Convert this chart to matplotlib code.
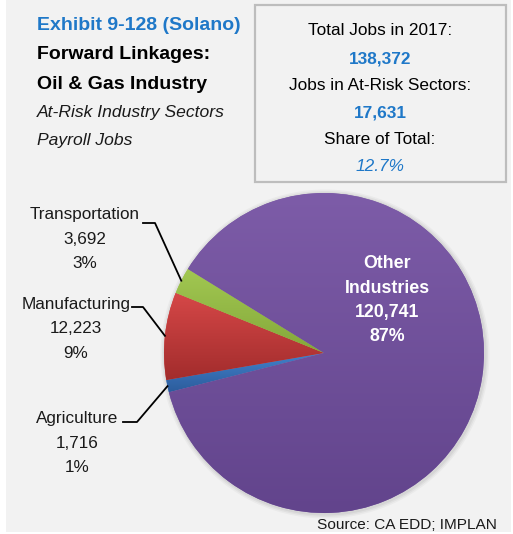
import numpy as np
import matplotlib.pyplot as plt
from matplotlib.colors import to_rgb
from matplotlib.patches import Rectangle, Circle

# data
sectors = ['Agriculture', 'Manufacturing', 'Transportation', 'Other Industries']
jobs = [1716, 12223, 3692, 120741]
total_jobs = 138372
year = 2017

# top / bottom colour of each slice gradient
grad_colors = [('#4282CC', '#2C5C9C'),
               ('#D64848', '#A22C2C'),
               ('#A2C852', '#84A83A'),
               ('#7D5CA8', '#62448C')]

W, H = 513, 534
BG = '#F2F2F2'
BLUE = '#1F78C8'
plt.rcParams['font.family'] = 'Liberation Sans'


def Y(y):
    # picture rows (top down) to data coords (bottom up)
    return H - y


fig = plt.figure(figsize=(W / 100, H / 100), dpi=100, facecolor='white')
ax = fig.add_axes([0, 0, 1, 1])

# grey panel and info box
ax.add_patch(Rectangle((6, Y(532)), 505, 532, facecolor=BG, edgecolor='none', zorder=0))
ax.add_patch(Rectangle((255, Y(182)), 251, 177, facecolor=BG, edgecolor='#BDBDBD',
                       lw=1.6, zorder=1))

# pie
cx, cy, r = 324, Y(353), 160
for i, a in enumerate([0.05, 0.04, 0.03]):
    ax.add_patch(Circle((cx + 1, cy - 1), r + 1.5 + i * 1.5, color='black', alpha=a,
                        lw=0, zorder=1))
wedges, _ = ax.pie(jobs, startangle=194.2, counterclock=False, center=(cx, cy),
                   radius=r, frame=True, colors=[c[0] for c in grad_colors],
                   wedgeprops=dict(linewidth=0, zorder=2))

for w, (ctop, cbot) in zip(wedges, grad_colors):
    ext = w.get_path().get_extents()
    c1, c2 = np.array(to_rgb(ctop)), np.array(to_rgb(cbot))
    t = np.linspace(0, 1, 256)[:, None, None]
    img = c1 * (1 - t) + c2 * t
    im = ax.imshow(img, extent=(ext.x0, ext.x1, ext.y0, ext.y1), origin='upper',
                   aspect='auto', zorder=3, interpolation='bilinear')
    im.set_clip_path(w)

# left labels with leader lines
lab_pos = {
    'Transportation': (85, [219, 244, 268], (143, 155, 223)),
    'Manufacturing': (76, [309, 333, 358], (132, 143, 307)),
    'Agriculture': (77, [423, 448, 472], (123, 137, 422)),
}
for w, name, v in zip(wedges, sectors, jobs):
    pct = round(v / total_jobs * 100)
    if name in lab_pos:
        x, ys, (x0, x1, yl) = lab_pos[name]
        for s, yb in zip([name, f'{v:,}', f'{pct}%'], ys):
            ax.text(x, Y(yb), s, ha='center', va='baseline', fontsize=12.3,
                    color='#1A1A1A', zorder=5)
        mid = np.deg2rad((w.theta1 + w.theta2) / 2)
        ex, ey = cx + r * np.cos(mid), cy + r * np.sin(mid)
        ax.plot([x0, x1, ex], [Y(yl), Y(yl), ey], color='black', lw=1.3, zorder=5)
    else:
        lines = name.split(' ') + [f'{v:,}', f'{pct}%']
        for s, yb in zip(lines, [268, 293, 317, 341]):
            ax.text(387, Y(yb), s, ha='center', va='baseline', fontsize=12.8,
                    fontweight='bold', color='white', zorder=5)

# title block
ax.text(37, Y(30), 'Exhibit 9-128 (Solano)', fontsize=14.0, fontweight='bold',
        color=BLUE, va='baseline', zorder=5)
ax.text(37, Y(59), 'Forward Linkages:', fontsize=14.0, fontweight='bold',
        color='black', va='baseline', zorder=5)
ax.text(37, Y(89), 'Oil & Gas Industry', fontsize=14.0, fontweight='bold',
        color='black', va='baseline', zorder=5)
ax.text(37, Y(117), 'At-Risk Industry Sectors', fontsize=12.6, style='italic',
        color='#1A1A1A', va='baseline', zorder=5)
ax.text(37, Y(145), 'Payroll Jobs', fontsize=12.6, style='italic',
        color='#1A1A1A', va='baseline', zorder=5)

# info box
at_risk = sum(jobs[:3])
box_lines = [
    (f'Total Jobs in {year}:', 35, 'black', 'normal', 'normal'),
    (f'{total_jobs:,}', 63, BLUE, 'bold', 'normal'),
    ('Jobs in At-Risk Sectors:', 90, 'black', 'normal', 'normal'),
    (f'{at_risk:,}', 117, BLUE, 'bold', 'normal'),
    ('Share of Total:', 144, 'black', 'normal', 'normal'),
    (f'{at_risk / total_jobs * 100:.1f}%', 171, BLUE, 'normal', 'italic'),
]
for s, yb, c, fw, st in box_lines:
    ax.text(380, Y(yb), s, ha='center', va='baseline', fontsize=12.4,
            color=c, fontweight=fw, style=st, zorder=5)

ax.text(407, Y(529), 'Source: CA EDD; IMPLAN', ha='center', va='baseline',
        fontsize=11.1, color='#1A1A1A', zorder=5)

ax.set_xlim(0, W)
ax.set_ylim(0, H)
ax.set_aspect('auto')
ax.axis('off')

fig.savefig('out.png', dpi=100, facecolor='white')
